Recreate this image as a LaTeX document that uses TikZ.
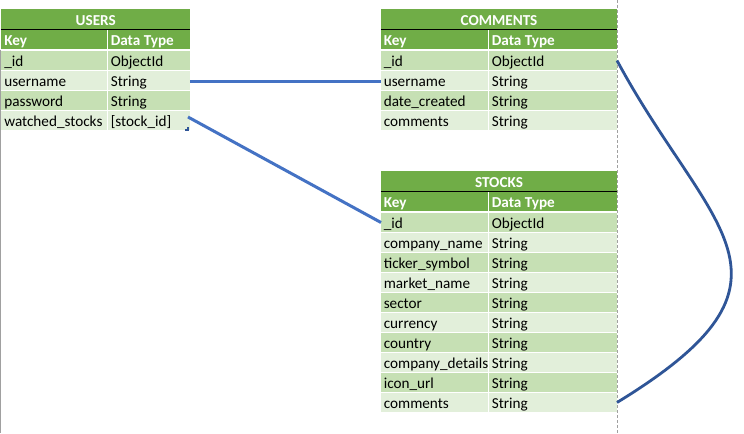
\documentclass[tikz,border=0pt]{standalone}
\usepackage{fontspec}
\setmainfont{Carlito}
\definecolor{hdrgreen}{HTML}{70AD47}
\definecolor{rowdark}{HTML}{C6E0B4}
\definecolor{rowlight}{HTML}{E2EFDA}
\definecolor{linkblue}{HTML}{4472C4}
\definecolor{curveblue}{HTML}{2F5597}
\definecolor{gridgray}{HTML}{A0A0A0}
\tikzset{
  cellbox/.style={draw=none, inner sep=0pt, outer sep=0pt, anchor=north west, minimum height=14.25pt},
  celltext/.style={anchor=base west, inner sep=0pt, outer sep=0pt, xshift=2.1pt, yshift=-4.7pt, font=\fontsize{11.4pt}{13pt}\selectfont},
  hdrtext/.style={celltext, text=white, font=\fontsize{11.4pt}{13pt}\selectfont\bfseries},
  titletext/.style={anchor=base, inner sep=0pt, outer sep=0pt, yshift=-4.5pt, text=white, font=\fontsize{11.4pt}{13pt}\selectfont\bfseries},
  link/.style={linkblue, line width=2.25pt},
  curvelink/.style={curveblue, line width=2.1pt},
  pagebreak/.style={gridgray, line width=0.8pt, dash pattern=on 2.25pt off 1.5pt},
}
% #1 name, #2 x0, #3 x split, #4 x1, #5 y top, #6 title, #7 rows
\newcommand\dbtable[7]{%
  \pgfmathsetmacro\tblw{(#4-#2)*0.75}%
  \pgfmathsetmacro\keyw{(#3-#2)*0.75}%
  \pgfmathsetmacro\typw{(#4-#3-1)*0.75}%
  \node[cellbox, fill=hdrgreen, minimum width=\tblw pt, minimum height=15.4pt] (#1-title) at (#2,#5) {};
  \node[titletext] (#1-title-t) at (#1-title.center) {#6};
  \node[cellbox, fill=hdrgreen, minimum width=\keyw pt] (#1-hkey) at (#2,#5+21) {};
  \node[cellbox, fill=hdrgreen, minimum width=\typw pt] (#1-htype) at (#3+1,#5+21) {};
  \draw[black, line width=0.75pt] (#1-title.south west) -- (#1-title.south east);
  \node[hdrtext] (#1-hkey-t) at (#1-hkey.west) {Key};
  \node[hdrtext] (#1-htype-t) at (#1-htype.west) {Data Type};
  \foreach \k/\v [count=\i] in {#7}{%
    \ifodd\i\def\rowfill{rowdark}\else\def\rowfill{rowlight}\fi
    \node[cellbox, fill=\rowfill, minimum width=\keyw pt] (#1-r\i-key) at (#2,#5+42+20*\i-20) {};
    \node[cellbox, fill=\rowfill, minimum width=\typw pt] (#1-r\i-type) at (#3+1,#5+42+20*\i-20) {};
    \node[celltext] (#1-r\i-key-t) at (#1-r\i-key.west) {\k};
    \node[celltext] (#1-r\i-type-t) at (#1-r\i-type.west) {\v};
  }%
}
\begin{document}
\begin{tikzpicture}[x=0.75pt, y=-0.75pt]
  \useasboundingbox (0,0) rectangle (744,433);
  \fill[white] (0,0) rectangle (744,433);
  % sheet edge on the left
  \draw[gridgray, line width=1.1pt] (0.75,50) -- (0.75,433);

  \dbtable{u}{1.5}{107}{190}{9}{USERS}{\_id/ObjectId, username/String, password/String, watched\_stocks/[stock\_id]}
  \dbtable{c}{381}{488}{617}{9}{COMMENTS}{\_id/ObjectId, username/String, date\_created/String, comments/String}
  \dbtable{s}{381}{488}{617}{171}{STOCKS}{\_id/ObjectId, company\_name/String, ticker\_symbol/String, market\_name/String, sector/String, currency/String, country/String, company\_details/String, icon\_url/String, comments/String}

  % page break line
  \draw[pagebreak] (617.6,0) -- (617.6,433);

  % selection handle
  \fill[curveblue] (187.2,126.5) rectangle (188.8,130.8);
  \fill[curveblue] (185,129.2) rectangle (188.8,130.8);

  % connectors
  \draw[link] ([yshift=-1.1pt]u-r2-type.east) -- ([yshift=-1.1pt]c-r2-key.west);
  \draw[link] ([xshift=-1.5pt, yshift=-4.5pt]u-r4-type.north east) -- (s-r1-key.west);
  \draw[curvelink] (c-r1-type.east) .. controls +(92,171) and +(203,-124) .. (s-r10-type.east);
\end{tikzpicture}
\end{document}
